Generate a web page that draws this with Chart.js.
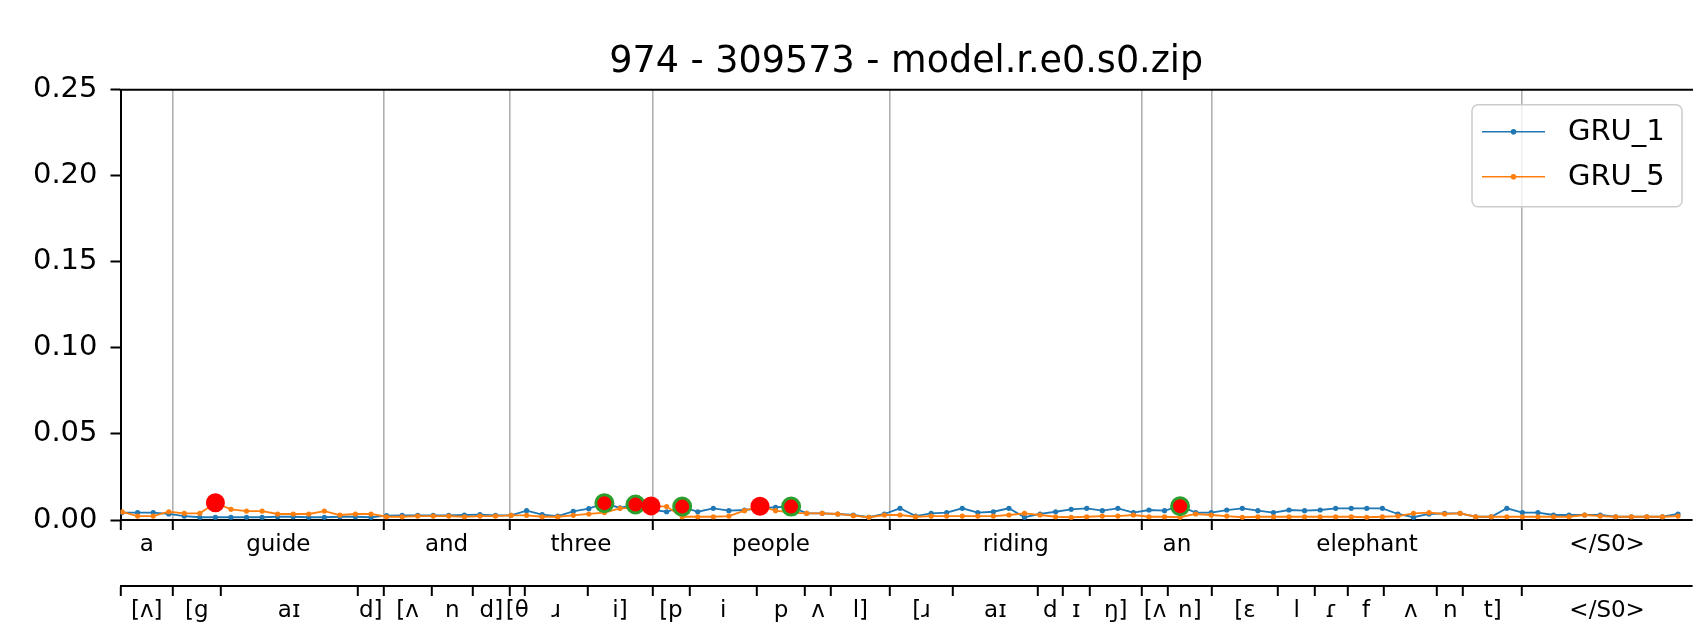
<!DOCTYPE html>
<html>
<head>
<meta charset="utf-8">
<script src="https://cdn.jsdelivr.net/npm/chart.js@4.4.0/dist/chart.umd.min.js"></script>
<style>
  html, body { margin: 0; padding: 0; background: #fff; overflow: hidden; }
  #wrap { position: relative; width: 1693px; height: 622px; }
</style>
</head>
<body>
<div id="wrap"><canvas id="gruChart"></canvas></div>
<script>
// values
var chartTitle = '974 - 309573 - model.r.e0.s0.zip';

var words = ['a', 'guide', 'and', 'three', 'people', 'riding', 'an', 'elephant', '</S0>'];
var wordBounds = [3.28, 16.81, 24.90, 34.09, 49.33, 65.55, 70.04, 89.99];

var phones = ['[ʌ]', '[g', 'aɪ', 'd]', '[ʌ', 'n', 'd]', '[θ', 'ɹ', 'i]',
              '[p', 'i', 'p', 'ʌ', 'l]', '[ɹ', 'aɪ', 'd', 'ɪ', 'ŋ]',
              '[ʌ', 'n]', '[ɛ', 'l', 'ɾ', 'f', 'ʌ', 'n', 't]', '</S0>'];
var phoneBounds = [3.28, 6.32, 15.16, 16.81, 19.88, 22.57, 24.90, 25.9, 29.92, 34.09,
                   36.46, 40.82, 43.89, 45.57, 49.33, 53.42, 58.84, 60.49, 62.17, 65.55,
                   67.22, 70.04, 74.31, 76.67, 78.77, 81.12, 84.53, 86.2, 89.99];

var xRange = [-0.1, 100.9];
var yTicks = [0, 0.05, 0.10, 0.15, 0.20, 0.25];

var gru1 = [0.0043, 0.0043, 0.0043, 0.0035, 0.0023, 0.0016, 0.0016, 0.0016, 0.0016, 0.0016,
            0.0019, 0.0019, 0.0016, 0.0016, 0.0019, 0.0019, 0.0016, 0.0025, 0.0027, 0.0027,
            0.0027, 0.0027, 0.0029, 0.0031, 0.0027, 0.0027, 0.0054, 0.0031, 0.0023, 0.0050,
            0.0066, 0.0098, 0.0070, 0.0090, 0.0060, 0.0048, 0.0078, 0.0048, 0.0068, 0.0054,
            0.0058, 0.0068, 0.0074, 0.0078, 0.0039, 0.0039, 0.0035, 0.0029, 0.0016, 0.0035,
            0.0068, 0.0023, 0.0039, 0.0043, 0.0068, 0.0043, 0.0048, 0.0068, 0.0016, 0.0035,
            0.0048, 0.0062, 0.0068, 0.0054, 0.0068, 0.0043, 0.0058, 0.0054, 0.0080, 0.0043,
            0.0043, 0.0058, 0.0068, 0.0054, 0.0043, 0.0058, 0.0054, 0.0058, 0.0068, 0.0068,
            0.0068, 0.0068, 0.0035, 0.0016, 0.0035, 0.0039, 0.0039, 0.0019, 0.0019, 0.0068,
            0.0043, 0.0043, 0.0029, 0.0029, 0.0029, 0.0029, 0.0019, 0.0019, 0.0019, 0.0019,
            0.0035];

var gru5 = [0.0047, 0.0023, 0.0023, 0.0048, 0.0039, 0.0039, 0.0100, 0.0062, 0.0052, 0.0052,
            0.0035, 0.0035, 0.0035, 0.0052, 0.0029, 0.0035, 0.0035, 0.0019, 0.0019, 0.0023,
            0.0023, 0.0023, 0.0019, 0.0023, 0.0023, 0.0027, 0.0027, 0.0019, 0.0019, 0.0027,
            0.0035, 0.0043, 0.0068, 0.0070, 0.0082, 0.0078, 0.0019, 0.0019, 0.0019, 0.0023,
            0.0054, 0.0080, 0.0054, 0.0043, 0.0039, 0.0039, 0.0035, 0.0025, 0.0016, 0.0029,
            0.0029, 0.0019, 0.0023, 0.0023, 0.0023, 0.0023, 0.0023, 0.0029, 0.0039, 0.0029,
            0.0019, 0.0016, 0.0019, 0.0023, 0.0023, 0.0029, 0.0019, 0.0019, 0.0016, 0.0035,
            0.0029, 0.0023, 0.0016, 0.0019, 0.0019, 0.0019, 0.0019, 0.0019, 0.0019, 0.0019,
            0.0016, 0.0019, 0.0023, 0.0039, 0.0043, 0.0035, 0.0039, 0.0019, 0.0019, 0.0019,
            0.0019, 0.0019, 0.0019, 0.0019, 0.0029, 0.0023, 0.0019, 0.0019, 0.0019, 0.0019,
            0.0023];

// highlighted frames (red dots; green edge on GRU_1)
var gru1Peaks = [31, 33, 36, 43, 68];
var gru5Peaks = [6, 34, 41];

var FONT = 'DejaVu Sans';

function points(values) {
    return values.map(function (v, i) { return { x: i, y: v }; });
}

function peakPoints(values, peaks) {
    return peaks.map(function (i) { return { x: i, y: values[i] }; });
}

// ticks at segment edges (marks only) and at segment middles (labels only)
function tickList(labels, bounds) {
    var edges = [xRange[0]].concat(bounds, [xRange[1]]);
    var list = [];
    for (var i = 0; i < labels.length; i++) {
        list.push({ value: edges[i], label: '', kind: i === 0 ? 'start' : 'bound' });
        list.push({ value: (edges[i] + edges[i + 1]) / 2, label: labels[i], kind: 'mid' });
    }
    return list;
}

function segmentAxis(list, weight, height, gridOnChart) {
    return {
        type: 'linear',
        position: 'bottom',
        weight: weight,
        min: xRange[0],
        max: xRange[1],
        afterBuildTicks: function (scale) {
            scale.ticks = list.map(function (t) { return { value: t.value }; });
        },
        afterFit: function (scale) {
            scale.height = height;
            scale.paddingLeft = 0;
            scale.paddingRight = 0;
        },
        ticks: {
            autoSkip: false,
            maxRotation: 0,
            minRotation: 0,
            padding: 1,
            color: '#000',
            font: { family: FONT, size: 23 },
            callback: function (v, i) { return list[i] ? list[i].label : ''; }
        },
        grid: {
            drawOnChartArea: gridOnChart,
            drawTicks: true,
            tickLength: 10,
            tickWidth: 2,
            lineWidth: 1.6,
            color: function (c) {
                return list[c.index] && list[c.index].kind === 'bound' ? '#b0b0b0' : 'rgba(0,0,0,0)';
            },
            tickColor: function (c) {
                return list[c.index] && list[c.index].kind !== 'mid' ? '#000' : 'rgba(0,0,0,0)';
            }
        },
        border: { display: true, color: '#000', width: 2 }
    };
}

var topSpine = {
    id: 'topSpine',
    afterDraw: function (chart) {
        var ctx = chart.ctx, a = chart.chartArea;
        ctx.save();
        ctx.strokeStyle = '#000';
        ctx.lineWidth = 2;
        ctx.beginPath();
        ctx.moveTo(a.left - 1, a.top);
        ctx.lineTo(a.right + 1, a.top);
        ctx.stroke();
        ctx.restore();
    }
};

var legendBox = {
    id: 'legendBox',
    afterDraw: function (chart) {
        var ctx = chart.ctx, a = chart.chartArea;
        var x = a.right - 220, y = a.top + 15, w = 210, h = 102;
        ctx.save();
        ctx.beginPath();
        ctx.roundRect(x, y, w, h, 6);
        ctx.fillStyle = 'rgba(255,255,255,0.8)';
        ctx.fill();
        ctx.strokeStyle = '#cccccc';
        ctx.lineWidth = 1.5;
        ctx.stroke();
        var series = chart.data.datasets.slice(0, 2);
        series.forEach(function (ds, k) {
            var yy = y + 27 + k * 45;
            ctx.strokeStyle = ds.borderColor;
            ctx.lineWidth = 1.6;
            ctx.beginPath();
            ctx.moveTo(x + 10, yy);
            ctx.lineTo(x + 73, yy);
            ctx.stroke();
            ctx.fillStyle = ds.borderColor;
            ctx.beginPath();
            ctx.arc(x + 41.5, yy, 2.8, 0, Math.PI * 2);
            ctx.fill();
            ctx.fillStyle = '#000';
            ctx.font = '29px "' + FONT + '"';
            ctx.textBaseline = 'middle';
            ctx.textAlign = 'left';
            ctx.fillText(ds.label, x + 96, yy + 1);
        });
        ctx.restore();
    }
};

var ctx = document.getElementById('gruChart').getContext('2d');
var myChart = new Chart(ctx, {
    type: 'line',
    data: {
        datasets: [{
            label: 'GRU_1',
            data: points(gru1),
            borderColor: '#1f77b4',
            backgroundColor: '#1f77b4',
            borderWidth: 1.8,
            pointRadius: 2.6,
            pointBorderWidth: 0,
            tension: 0,
            order: 3
        }, {
            label: 'GRU_5',
            data: points(gru5),
            borderColor: '#ff7f0e',
            backgroundColor: '#ff7f0e',
            borderWidth: 1.8,
            pointRadius: 2.6,
            pointBorderWidth: 0,
            tension: 0,
            order: 2
        }, {
            label: 'GRU_1 peaks',
            data: peakPoints(gru1, gru1Peaks),
            showLine: false,
            pointRadius: 8.5,
            pointBackgroundColor: '#ff0000',
            pointBorderColor: '#2ca02c',
            pointBorderWidth: 3,
            order: 1
        }, {
            label: 'GRU_5 peaks',
            data: peakPoints(gru5, gru5Peaks),
            showLine: false,
            pointRadius: 9.5,
            pointBackgroundColor: '#ff0000',
            pointBorderColor: '#ff0000',
            pointBorderWidth: 0,
            order: 0
        }]
    },
    options: {
        maintainAspectRatio: false,
        responsive: true,
        animation: false,
        events: [],
        layout: { autoPadding: false, padding: { left: 0, right: 1, top: 0, bottom: 0 } },
        scales: {
            x: segmentAxis(tickList(words, wordBounds), 0, 66, true),
            x2: segmentAxis(tickList(phones, phoneBounds), 1, 36, false),
            y: {
                min: 0,
                max: 0.25,
                afterBuildTicks: function (scale) {
                    scale.ticks = yTicks.map(function (v) { return { value: v }; });
                },
                afterFit: function (scale) { scale.width = 120.5; },
                ticks: {
                    padding: 13,
                    color: '#000',
                    font: { family: FONT, size: 29 },
                    callback: function (v) { return Number(v).toFixed(2); }
                },
                grid: { drawOnChartArea: false, tickLength: 10, tickWidth: 2, tickColor: '#000' },
                border: { color: '#000', width: 2 }
            }
        },
        plugins: {
            legend: { display: false },
            tooltip: { enabled: false },
            title: {
                display: true,
                text: chartTitle,
                fullSize: false,
                color: '#000',
                font: { family: FONT, size: 36.5, weight: 'normal' },
                padding: { top: 41, bottom: 5 }
            }
        }
    },
    plugins: [topSpine, legendBox]
});
</script>
</body>
</html>
